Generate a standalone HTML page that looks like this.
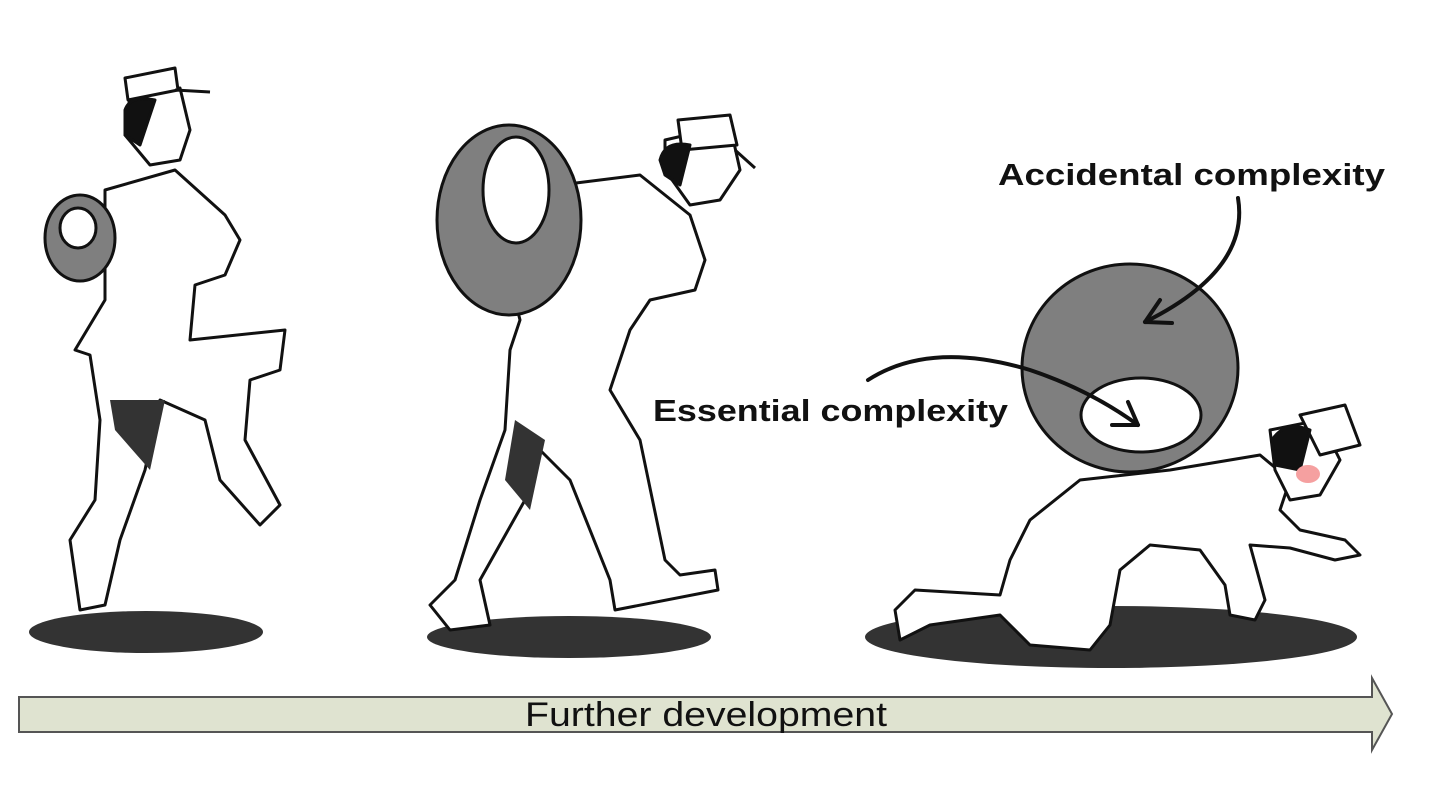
<!DOCTYPE html>
<html><head><meta charset="utf-8"><style>
html,body{margin:0;padding:0;background:#fff;}
svg{display:block;}
text{font-family:"Liberation Sans",sans-serif;}
</style></head><body>
<svg width="1440" height="788" viewBox="0 0 1440 788" xmlns="http://www.w3.org/2000/svg">
<rect width="1440" height="788" fill="#fff"/>
<!-- shadows -->
<ellipse cx="146" cy="632" rx="117" ry="21" fill="#333"/>
<ellipse cx="569" cy="637" rx="142" ry="21" fill="#333"/>
<ellipse cx="1111" cy="637" rx="246" ry="31" fill="#333"/>

<g stroke="#111" stroke-width="3" fill="#fff" stroke-linejoin="round">
<!-- figure 1 -->
<path d="M105 190 L175 170 L225 215 L240 240 L225 275 L195 285 L190 340 L285 330 L280 370 L250 380 L245 440 L280 505 L260 525 L220 480 L205 420 L160 400 L145 470 L120 540 L105 605 L80 610 L70 540 L95 500 L100 420 L90 355 L75 350 L105 300 Z"/>
<path d="M130 95 L180 88 L190 130 L180 160 L150 165 L125 135 Z"/>
<path d="M125 78 L175 68 L178 90 L128 100 Z"/>
<path d="M175 90 L210 92" fill="none"/>
<path d="M125 110 Q130 95 155 100 L140 145 L125 135 Z" fill="#111"/>
<path d="M110 400 L165 400 L150 470 L115 430 Z" fill="#333" stroke="none"/>
<!-- figure 2 -->
<path d="M560 185 L640 175 L690 215 L705 260 L695 290 L650 300 L630 330 L610 390 L640 440 L665 560 L680 575 L715 570 L718 590 L615 610 L610 580 L570 480 L540 450 L525 500 L480 580 L490 625 L450 630 L430 605 L455 580 L480 500 L505 430 L510 350 L520 320 L515 300 L545 280 Z"/>
<path d="M665 140 L730 125 L740 170 L720 200 L690 205 L665 170 Z"/>
<path d="M678 120 L730 115 L737 145 L682 150 Z"/>
<path d="M735 150 L755 168" fill="none"/>
<path d="M660 160 Q665 140 690 145 L680 185 L665 175 Z" fill="#111"/>
<path d="M515 420 L545 440 L530 510 L505 480 Z" fill="#333" stroke="none"/>
<!-- figure 3 -->
<path d="M1030 520 L1080 480 L1170 470 L1260 455 L1290 480 L1280 510 L1300 530 L1345 540 L1360 555 L1335 560 L1290 548 L1250 545 L1265 600 L1255 620 L1230 615 L1225 585 L1200 550 L1150 545 L1120 570 L1110 625 L1090 650 L1030 645 L1010 625 L1000 615 L930 625 L900 640 L895 610 L915 590 L1000 595 L1010 560 Z"/>
<path d="M1270 430 L1320 420 L1340 460 L1320 495 L1290 500 L1275 470 Z"/>
<path d="M1300 415 L1345 405 L1360 445 L1320 455 Z"/>
<path d="M1272 440 Q1285 420 1310 430 L1300 470 L1275 465 Z" fill="#111"/>
<ellipse cx="1308" cy="474" rx="12" ry="9" fill="#f5a0a0" stroke="none"/>
</g>

<!-- rings -->
<ellipse cx="80" cy="238" rx="35" ry="43" fill="#7f7f7f" stroke="#111" stroke-width="3"/>
<ellipse cx="78" cy="228" rx="18" ry="20" fill="#fff" stroke="#111" stroke-width="3"/>
<ellipse cx="509" cy="220" rx="72" ry="95" fill="#7f7f7f" stroke="#111" stroke-width="3"/>
<ellipse cx="516" cy="190" rx="33" ry="53" fill="#fff" stroke="#111" stroke-width="3"/>
<ellipse cx="1130" cy="368" rx="108" ry="104" fill="#7f7f7f" stroke="#111" stroke-width="3"/>
<ellipse cx="1141" cy="415" rx="60" ry="37" fill="#fff" stroke="#111" stroke-width="3"/>

<!-- callout arrows -->
<g stroke="#111" stroke-width="4" fill="none" stroke-linecap="round">
<path d="M1238 198 Q1250 270 1145 322"/>
<path d="M1145 322 L1160 300 M1145 322 L1172 323"/>
<path d="M868 380 Q930 340 1030 370 Q1090 390 1138 425"/>
<path d="M1138 425 L1112 425 M1138 425 L1128 402"/>
</g>

<text x="998" y="185" font-size="31" font-weight="bold" fill="#111" textLength="387" lengthAdjust="spacingAndGlyphs">Accidental complexity</text>
<text x="653" y="421" font-size="31" font-weight="bold" fill="#111" textLength="355" lengthAdjust="spacingAndGlyphs">Essential complexity</text>

<!-- bottom arrow -->
<path d="M19 697 L1372 697 L1372 678 L1392 714 L1372 750 L1372 732 L19 732 Z" fill="#dfe3d0" stroke="#555" stroke-width="2"/>
<text x="525" y="726" font-size="34" fill="#111" textLength="362" lengthAdjust="spacingAndGlyphs">Further development</text>
</svg>
</body></html>
